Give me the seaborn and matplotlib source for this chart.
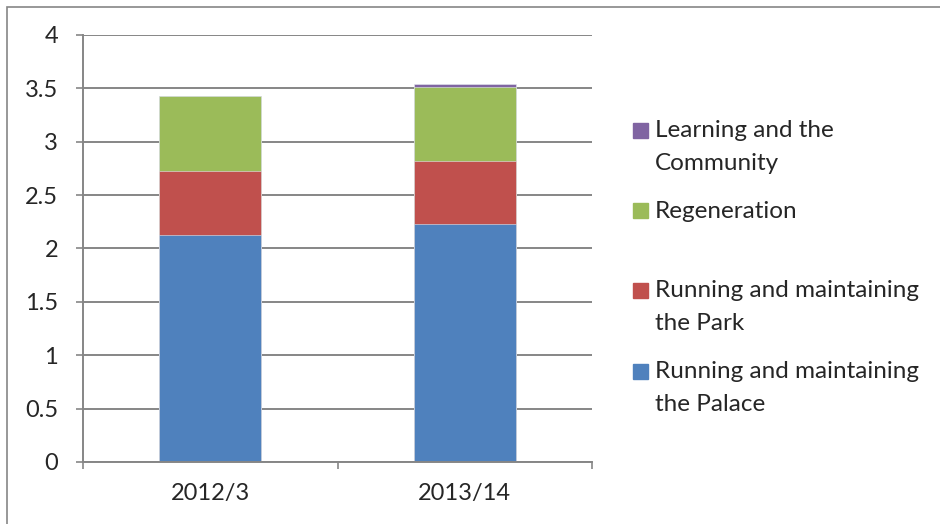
import matplotlib
matplotlib.use("Agg")
import matplotlib.pyplot as plt
from matplotlib.patches import Rectangle
import numpy as np
import pandas as pd
import seaborn as sns

# data
years = ["2012/3", "2013/14"]
palace = [2.13, 2.23]
park = [0.60, 0.59]
regeneration = [0.70, 0.69]
learning = [0.0, 0.03]

series_names = ["Running and maintaining\nthe Palace", "Running and maintaining\nthe Park",
                "Regeneration", "Learning and the\nCommunity"]
series_colors = ["#4F81BD", "#C0504D", "#9BBB59", "#8064A2"]
yticks = [0, 0.5, 1, 1.5, 2, 2.5, 3, 3.5, 4]

sns.set_style("white")
plt.rcParams["font.family"] = ["Lato", "DejaVu Sans"]
plt.rcParams["font.size"] = 17

fig = plt.figure(figsize=(9.4, 5.24), dpi=100)
ax = fig.add_axes([83 / 940, 62 / 524, 509 / 940, 427 / 524])

layers = [palace, park, regeneration, learning]
cum = np.cumsum(np.array(layers), axis=0)

# draw from the top layer down so each lower layer covers the upper one's base
for i in range(len(layers) - 1, -1, -1):
    df = pd.DataFrame({"year": years, "value": cum[i]})
    sns.barplot(data=df, x="year", y="value", color=series_colors[i],
                saturation=1, width=0.4, ax=ax, edgecolor="#e4e9ef", linewidth=0.4)

ax.set_xlim(-0.5, 1.5)
ax.set_ylim(0, 4)
ax.set_xlabel("")
ax.set_ylabel("")
ax.set_yticks(yticks)
ax.set_yticklabels([f"{t:g}" for t in yticks])
ax.yaxis.grid(True, color="#868686", linewidth=1.4)
ax.set_axisbelow(True)
for s in ["top", "right"]:
    ax.spines[s].set_visible(False)
for s in ["left", "bottom"]:
    ax.spines[s].set_color("#868686")
    ax.spines[s].set_linewidth(1.4)

ax.tick_params(axis="y", which="major", direction="out", length=5, width=1.2,
               color="#868686", pad=13, left=True)
ax.tick_params(axis="x", which="major", length=0, pad=15)
ax.set_xticks([-0.5, 0.5, 1.5], minor=True)
ax.tick_params(axis="x", which="minor", direction="out", length=5, width=1.2,
               color="#868686", bottom=True)

# legend, drawn in reverse order like the reference
legend_y = [147, 211, 307, 388]
order = [3, 2, 1, 0]
for yy, idx in zip(legend_y, order):
    nlines = series_names[idx].count("\n") + 1
    top = yy - (nlines - 1) * 16
    fig.patches.append(Rectangle((633 / 940, 1 - (top + 7) / 524), 15 / 940, 15 / 524,
                                 transform=fig.transFigure, color=series_colors[idx]))
    fig.text(655 / 940, 1 - yy / 524, series_names[idx], va="center", ha="left",
             fontsize=17.5, linespacing=1.65)

# outer chart border
fig.patches.append(Rectangle((7 / 940, -0.05), 1.0, 1 - 7 / 524 + 0.05,
                             transform=fig.transFigure, fill=False,
                             edgecolor="#868686", linewidth=1.2))

fig.savefig("out.png", dpi=100)
